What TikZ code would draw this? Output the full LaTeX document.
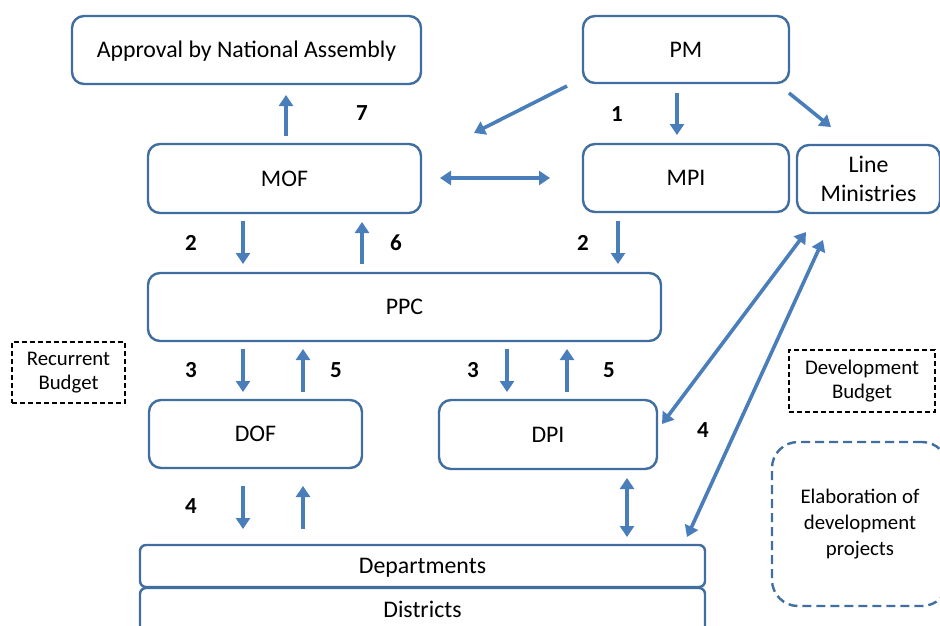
\documentclass[tikz,border=0pt]{standalone}
\usepackage{fontspec}
\setmainfont{Carlito}
\usetikzlibrary{arrows.meta}
\definecolor{boxline}{RGB}{65,110,160}
\definecolor{arrowblue}{RGB}{74,126,187}
\begin{document}
\begin{tikzpicture}[x=1pt,y=-1pt,
  box/.style={draw=boxline, line width=2.4pt, rounded corners=12pt, fill=white,
    align=center, inner sep=0pt, font=\fontsize{23.8}{29}\selectfont},
  onebox/.style={box, text height=15.4pt, text depth=0pt},
  flatbox/.style={onebox, rounded corners=6pt},
  notebox/.style={draw=black, line width=1.8pt, dash pattern=on 5pt off 3pt,
    align=center, inner sep=0pt, font=\fontsize{20.8}{24.5}\selectfont},
  ideabox/.style={draw=boxline, line width=2.4pt, dash pattern=on 9pt off 5pt,
    rounded corners=26pt, align=center, inner sep=0pt,
    font=\fontsize{20.8}{26}\selectfont},
  arr/.style={draw=arrowblue, line width=3.6pt, -{Triangle[length=11pt,width=14pt]}},
  darr/.style={draw=arrowblue, line width=3.6pt,
    {Triangle[length=11pt,width=14pt]}-{Triangle[length=11pt,width=14pt]}},
  num/.style={font=\bfseries\fontsize{23}{26}\selectfont, inner sep=0pt}
]
\useasboundingbox (0,0) rectangle (940,625);

% boxes
\node[onebox, minimum width=349pt, minimum height=68pt] (app) at (246.5,50) {Approval by National Assembly};
\node[onebox, minimum width=206pt, minimum height=67pt] (pm) at (686,49.5) {PM};
\node[onebox, minimum width=206pt, minimum height=68pt] (mpi) at (686,178) {MPI};
\node[box, minimum width=143pt, minimum height=68pt] (lm) at (868.5,179) {Line\\Ministries};
\node[onebox, minimum width=273pt, minimum height=69pt] (mof) at (284.5,178.5) {MOF};
\node[onebox, minimum width=513pt, minimum height=68pt] (ppc) at (404.5,307) {PPC};
\node[onebox, minimum width=213pt, minimum height=68pt] (dof) at (255.5,434) {DOF};
\node[onebox, minimum width=218pt, minimum height=69pt] (dpi) at (548,434.5) {DPI};
\node[flatbox, minimum width=565pt, minimum height=44pt] (dis) at (422.5,610) {Districts};
\node[flatbox, minimum width=565pt, minimum height=42pt] (dep) at (422.5,566) {Departments};

% side notes
\node[notebox, minimum width=113pt, minimum height=61pt] (rb) at (68.5,372.5) {Recurrent\\Budget};
\node[notebox, minimum width=146pt, minimum height=62pt] (db) at (862,381) {Development\\Budget};
\node[ideabox, minimum width=176pt, minimum height=164pt] (el) at (860,524) {Elaboration of\\development\\projects};

% arrow end points
\coordinate (appIn) at (286,95);   \coordinate (mofOut7) at (286,136);
\coordinate (pmA) at (567,86);     \coordinate (mofIn1) at (474,133);
\coordinate (pmB) at (677,93);     \coordinate (mpiIn) at (677,135);
\coordinate (pmC) at (789,93);     \coordinate (lmIn) at (831,127);
\coordinate (mofR) at (440,178);   \coordinate (mpiL) at (550,178);
\coordinate (mofD) at (243,221);   \coordinate (ppcU1) at (243,264);
\coordinate (ppcU2) at (362,264);  \coordinate (mofD2) at (362,222);
\coordinate (mpiD) at (618,221);   \coordinate (ppcU3) at (618,264);
\coordinate (ppcD1) at (243,349);  \coordinate (dofU1) at (243,392);
\coordinate (dofU2) at (303,392);  \coordinate (ppcD2) at (303,349);
\coordinate (ppcD3) at (507,349);  \coordinate (dpiU1) at (507,392);
\coordinate (dpiU2) at (567,392);  \coordinate (ppcD4) at (567,349);
\coordinate (dofD1) at (243,486);  \coordinate (depU1) at (243,529);
\coordinate (depU2) at (303,529);  \coordinate (dofD2) at (303,486);
\coordinate (dpiD) at (627,478);   \coordinate (depU3) at (627,537);
\coordinate (lmA) at (806,232);    \coordinate (dpiR) at (662,424);
\coordinate (lmB) at (823,240);    \coordinate (depU4) at (687,537);

% connectors
\draw[arr] (mofOut7) -- (appIn);
\draw[arr] (pmA) -- (mofIn1);
\draw[arr] (pmB) -- (mpiIn);
\draw[arr] (pmC) -- (lmIn);
\draw[darr] (mofR) -- (mpiL);
\draw[arr] (mofD) -- (ppcU1);
\draw[arr] (ppcU2) -- (mofD2);
\draw[arr] (mpiD) -- (ppcU3);
\draw[arr] (ppcD1) -- (dofU1);
\draw[arr] (dofU2) -- (ppcD2);
\draw[arr] (ppcD3) -- (dpiU1);
\draw[arr] (dpiU2) -- (ppcD4);
\draw[arr] (dofD1) -- (depU1);
\draw[arr] (depU2) -- (dofD2);
\draw[darr] (dpiD) -- (depU3);
\draw[darr] (lmA) -- (dpiR);
\draw[darr] (lmB) -- (depU4);

% step numbers
\node[num] (n7) at (362,113) {7};
\node[num] (n1) at (617,114) {1};
\node[num] (n2a) at (191,243) {2};
\node[num] (n6) at (396,243) {6};
\node[num] (n2b) at (583,243) {2};
\node[num] (n3a) at (191,370) {3};
\node[num] (n5a) at (336,370) {5};
\node[num] (n3b) at (473,370) {3};
\node[num] (n5b) at (609,370) {5};
\node[num] (n4a) at (703,430) {4};
\node[num] (n4b) at (191,506) {4};
\end{tikzpicture}
\end{document}
